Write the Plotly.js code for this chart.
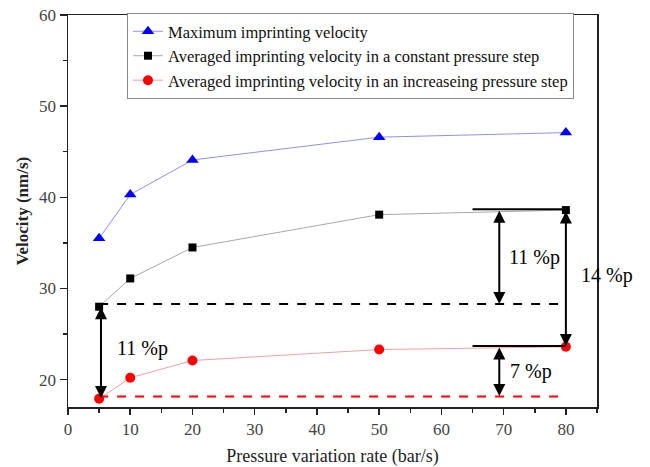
<!DOCTYPE html>
<html>
<head>
<meta charset="utf-8">
<script src="https://cdn.plot.ly/plotly-3.0.1.min.js"></script>
<style>html,body{margin:0;padding:0;background:#fff;}#chart{width:650px;height:467px;}</style>
</head>
<body>
<div id="chart"></div>
<script>
// ---- data ----
const rates = [5, 10, 20, 50, 80];
const maxVelocity = [35.5, 40.3, 44.1, 46.6, 47.1];
const constVelocity = [28.0, 31.1, 34.5, 38.1, 38.6];
const increasingVelocity = [17.9, 20.2, 22.1, 23.3, 23.6];
const seriesNames = [
  'Maximum imprinting velocity',
  'Averaged imprinting velocity in a constant pressure step',
  'Averaged imprinting velocity in an increaseing pressure step'
];
// reference levels and brackets
const blackTop = 38.7, blackBase = 28.3, redTop = 23.7, redBase = 18.15;
const bracketStartX = 65.0, bracketEndX = 80, baseStartX = 5, baseEndX = 80;
const arrows = [ // [x, yFrom, yTo]
  [5.3, 28.1, 18.0],
  [69.3, 38.7, 28.3],
  [80.0, 38.6, 23.7],
  [69.3, 23.7, 18.2]
];
const labels = [ // [x, y, text]
  [12.0, 23.4, '11 %p'],
  [75.0, 33.4, '11 %p'],
  [86.6, 31.4, '14 %p'],
  [74.4, 20.9, '7 %p']
];
const xRange = [0, 85];
const yRange = [17, 60];

const serif = '"Liberation Serif", "Times New Roman", serif';

const traces = [
  {x: rates, y: maxVelocity, name: seriesNames[0], mode: 'lines+markers',
   line: {color: '#8f8ff5', width: 1}, marker: {symbol: 'triangle-up', size: 11, color: '#0000ff'}},
  {x: rates, y: constVelocity, name: seriesNames[1], mode: 'lines+markers',
   line: {color: '#a8a8a8', width: 1}, marker: {symbol: 'square', size: 8, color: '#000000'}},
  {x: rates, y: increasingVelocity, name: seriesNames[2], mode: 'lines+markers',
   line: {color: '#f2a0a0', width: 1}, marker: {symbol: 'circle', size: 10, color: '#ff0000'}}
];

const shapes = [
  {type: 'line', xref: 'x', yref: 'y', x0: bracketStartX, x1: bracketEndX, y0: blackTop, y1: blackTop, line: {color: '#000', width: 2}},
  {type: 'line', xref: 'x', yref: 'y', x0: baseStartX, x1: baseEndX, y0: blackBase, y1: blackBase, line: {color: '#000', width: 2, dash: 'dash'}},
  {type: 'line', xref: 'x', yref: 'y', x0: bracketStartX, x1: bracketEndX, y0: redTop, y1: redTop, line: {color: '#000', width: 2}},
  {type: 'line', xref: 'x', yref: 'y', x0: baseStartX, x1: baseEndX - 1, y0: redBase, y1: redBase, line: {color: '#ff0000', width: 2, dash: 'dash'}}
];

const annotations = [];
arrows.forEach(a => {
  annotations.push({x: a[0], y: a[2], ax: a[0], ay: a[1], xref: 'x', yref: 'y', axref: 'x', ayref: 'y',
    text: '', showarrow: true, arrowside: 'end+start', arrowhead: 2, startarrowhead: 2,
    arrowsize: 1.2, startarrowsize: 1.2, arrowwidth: 2, arrowcolor: '#000', standoff: 0, startstandoff: 0});
});
labels.forEach(l => {
  const outside = l[0] > xRange[1];
  annotations.push({x: outside ? (l[0] - xRange[0]) / (xRange[1] - xRange[0]) : l[0], y: l[1],
    xref: outside ? 'paper' : 'x', yref: 'y', xanchor: 'center', yanchor: 'middle', text: l[2], showarrow: false,
    font: {family: serif, size: 20, color: '#000'}});
});

const layout = {
  width: 650, height: 467,
  margin: {l: 68, r: 53, t: 15, b: 60},
  paper_bgcolor: '#fff', plot_bgcolor: '#fff',
  font: {family: serif},
  showlegend: true,
  legend: {x: 0.1115, y: 1.005, xanchor: 'left', yanchor: 'top', bgcolor: '#fff',
    bordercolor: '#888', borderwidth: 1, font: {family: serif, size: 16.5, color: '#111'}},
  xaxis: {range: xRange, dtick: 10, tick0: 0, ticks: 'outside', ticklen: 6, tickwidth: 1.5,
    tickcolor: '#222', showline: true, linecolor: '#222', linewidth: 1.5, mirror: true,
    showgrid: false, zeroline: false,
    minor: {dtick: 5, ticks: 'outside', ticklen: 4, tickcolor: '#222', showgrid: false},
    tickfont: {family: serif, size: 17, color: '#444'},
    title: {text: 'Pressure variation rate (bar/s)', font: {family: serif, size: 18, color: '#222'}, standoff: 13}},
  yaxis: {range: yRange, dtick: 10, tick0: 0, ticks: 'outside', ticklen: 7, tickwidth: 1.5,
    tickcolor: '#222', showline: true, linecolor: '#222', linewidth: 1.5, mirror: true,
    showgrid: false, zeroline: false,
    minor: {dtick: 5, ticks: 'outside', ticklen: 4, tickcolor: '#222', showgrid: false},
    tickfont: {family: serif, size: 17, color: '#444'},
    title: {text: '<b>Velocity (nm/s)</b>', font: {family: serif, size: 17, color: '#222'}, standoff: 6}},
  shapes: shapes,
  annotations: annotations
};

Plotly.newPlot('chart', traces, layout, {displayModeBar: false, staticPlot: true});
</script>
</body>
</html>
